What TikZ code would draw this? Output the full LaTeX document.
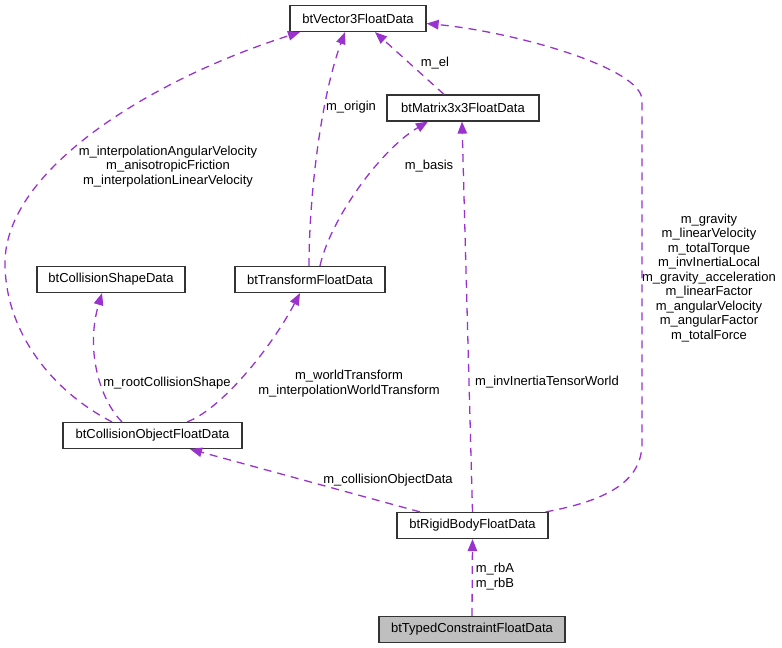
\documentclass[tikz,border=0pt]{standalone}
\usepackage{fontspec}
\setmainfont{Liberation Sans}
\usetikzlibrary{arrows.meta}
\definecolor{edgec}{RGB}{154,50,205}
\definecolor{boxgray}{RGB}{191,191,191}
\tikzset{
  cls/.style={draw=black!80, line width=1.2pt, minimum height=26pt, inner sep=0pt,
    font=\fontsize{13}{14.5}\selectfont, text=black},
  lbl/.style={font=\fontsize{13}{14.5}\selectfont, align=center, inner sep=0pt, text=black},
  rel/.style={draw=edgec, line width=1.3pt, dash pattern=on 8pt off 6pt,
    -{Triangle[length=12pt,width=9.5pt,fill=edgec]}},
}
\begin{document}
\begin{tikzpicture}[x=1pt,y=-1pt]
\useasboundingbox (0,0) rectangle (782,648);
% nodes
\node[cls, minimum width=136pt] (v3) at (358,18.5) {btVector3FloatData};
\node[cls, minimum width=152pt] (m3) at (463,108) {btMatrix3x3FloatData};
\node[cls, minimum width=148pt] (cs) at (111,279.5) {btCollisionShapeData};
\node[cls, minimum width=150pt] (tf) at (310,279.5) {btTransformFloatData};
\node[cls, minimum width=179pt] (co) at (152.5,435.5) {btCollisionObjectFloatData};
\node[cls, minimum width=151pt] (rb) at (472.5,525.5) {btRigidBodyFloatData};
\node[cls, minimum width=186pt, fill=boxgray] (tc) at (472,629.5) {btTypedConstraintFloatData};
% edges
\draw[rel] ([xshift=-40.5pt]co.north) .. controls (50,390) and (5,330) .. (5,263)
  .. controls (5,170) and (150,80) .. ([xshift=-58pt]v3.south);
\draw[rel] ([xshift=-1pt]tf.north) .. controls (309,200) and (320,100) .. ([xshift=-13pt]v3.south);
\draw[rel] ([xshift=-19pt]m3.north) -- ([xshift=17pt]v3.south);
\draw[rel] ([xshift=10pt]tf.north) .. controls (330,220) and (380,150) .. ([xshift=-35pt]m3.south);
\draw[rel] ([xshift=-30.5pt]co.north) .. controls (100,400) and (85,350) .. ([xshift=-9pt]cs.south);
\draw[rel] ([xshift=34.5pt]co.north) .. controls (220,410) and (270,350) .. ([xshift=-10pt]tf.south);
\draw[rel] (rb.north) -- ([xshift=-1pt]m3.south);
\draw[rel] ([xshift=-52.5pt]rb.north) -- ([xshift=37.5pt]co.south);
\draw[rel] ([xshift=-3pt]rb.north east) .. controls (610,500) and (642,480) .. (642,443)
  -- (642,100) .. controls (642,68) and (515,32) .. ([yshift=-5pt]v3.east);
\draw[rel] (tc.north) -- (rb.south);
% labels
\node[lbl] (l1) at (168,166.5) {m\_interpolationAngularVelocity\\m\_anisotropicFriction\\m\_interpolationLinearVelocity};
\node[lbl] (l2) at (351,107) {m\_origin};
\node[lbl] (l3) at (435,63) {m\_el};
\node[lbl] (l4) at (429,166) {m\_basis};
\node[lbl] (l5) at (167,383) {m\_rootCollisionShape};
\node[lbl] (l6) at (349,383.5) {m\_worldTransform\\m\_interpolationWorldTransform};
\node[lbl] (l7) at (547,382) {m\_invInertiaTensorWorld};
\node[lbl] (l8) at (388,480) {m\_collisionObjectData};
\node[lbl] (l9) at (709,278) {m\_gravity\\m\_linearVelocity\\m\_totalTorque\\m\_invInertiaLocal\\m\_gravity\_acceleration\\m\_linearFactor\\m\_angularVelocity\\m\_angularFactor\\m\_totalForce};
\node[lbl] (l10) at (495,576.5) {m\_rbA\\m\_rbB};
\end{tikzpicture}
\end{document}
